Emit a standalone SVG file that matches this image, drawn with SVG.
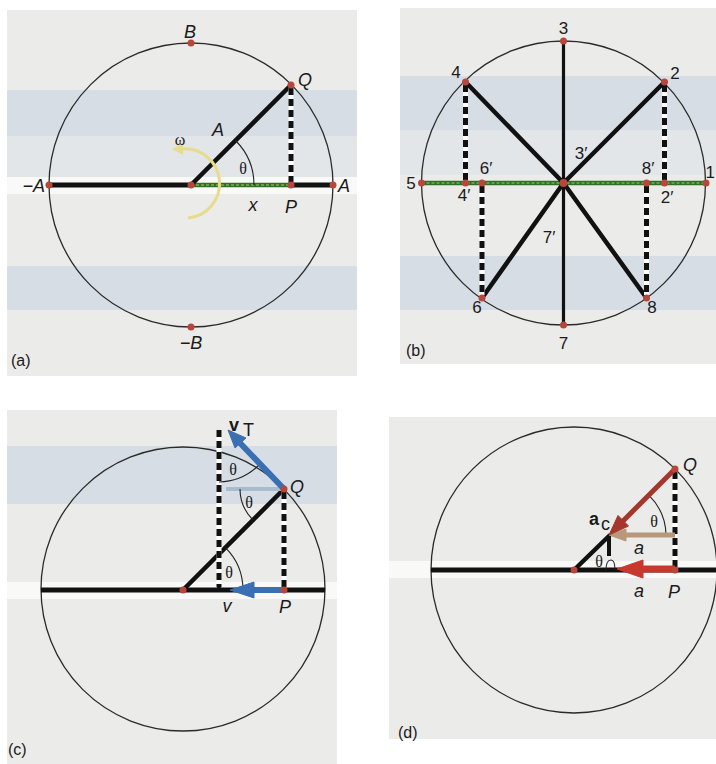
<svg xmlns="http://www.w3.org/2000/svg" width="716" height="764" viewBox="0 0 716 764">
<defs>
<style>
.bg{fill:#ebebe9}
.band{fill:#d6dde4}
.band2{fill:#e3e6e9}
.wband{fill:#f9f9f8}
.circ{fill:none;stroke:#2a2a2a;stroke-width:1.3}
.bar{stroke:#111;stroke-width:5;stroke-linecap:butt;fill:none}
.rod{stroke:#111;stroke-width:4.5;stroke-linecap:round;fill:none}
.dw{stroke:#fff;stroke-width:5;fill:none}
.dk{stroke:#111;stroke-width:5;stroke-dasharray:7 4;fill:none}
.gr{stroke:#2f6f2a;stroke-width:4.5;fill:none}
.gr2{stroke:#7fb04a;stroke-width:1.5;stroke-dasharray:3 2;fill:none}
.dot{fill:#b8463c}
.arc{fill:none;stroke:#222;stroke-width:1.1}
.t{font-family:"Liberation Sans",Arial,sans-serif;font-size:18px;fill:#1a1a1a}
.i{font-style:italic}
.n{font-family:"Liberation Sans",Arial,sans-serif;font-size:17px;fill:#1a1a1a}
.th{font-family:"Liberation Serif","Times New Roman",serif;font-size:16px;fill:#1a1a1a}
.lab{font-family:"Liberation Sans",Arial,sans-serif;font-size:16px;fill:#1a1a1a}
.blue{fill:#3b6fb3;stroke:#3b6fb3}
.red{fill:#a5362b;stroke:#a5362b}
.red2{fill:#c8382d;stroke:#c8382d}
.tan{fill:#b8987a;stroke:#b8987a}
</style>
</defs>
<rect width="716" height="764" fill="#ffffff"/>

<!-- Panel (a) -->
<g id="panel-a">
<rect class="bg" x="7" y="10" width="350" height="366"/>
<rect class="band" x="7" y="90" width="350" height="46"/>
<rect class="band2" x="7" y="136" width="350" height="42"/>
<rect class="wband" x="7" y="177" width="350" height="17"/>
<rect class="band" x="7" y="266" width="350" height="44"/>
<circle class="circ" cx="191" cy="185" r="142"/>
</g>
<g id="connectors-a">
<line class="bar" x1="49" y1="185" x2="191" y2="185"/>
<line class="bar" x1="291" y1="185" x2="333" y2="185"/>
<line class="gr" x1="191" y1="185" x2="291" y2="185"/>
<line class="gr2" x1="191" y1="185" x2="291" y2="185"/>
<line class="rod" x1="191" y1="185" x2="291" y2="85"/>
<line class="dw" x1="291" y1="88" x2="291" y2="183"/>
<line class="dk" x1="291" y1="88" x2="291" y2="183"/>
<path class="arc" d="M254,185 A63,63 0 0 0 235.5,140.5"/>
<path d="M188,218 A34,34 0 0 0 182,149" fill="none" stroke="#e6dc8c" stroke-width="3"/>
<polygon points="172,149 183,143 183,155" fill="#e6dc8c"/>
</g>
<g id="nodes-a">
<circle class="dot" cx="191" cy="43" r="3.5"/>
<circle class="dot" cx="191" cy="327" r="3.5"/>
<circle class="dot" cx="49" cy="185" r="3.5"/>
<circle class="dot" cx="333" cy="185" r="3.5"/>
<circle class="dot" cx="191" cy="185" r="3.5"/>
<circle class="dot" cx="291" cy="185" r="3.5"/>
<circle class="dot" cx="291" cy="85" r="3.5"/>
<text class="t i" x="190" y="38" text-anchor="middle">B</text>
<text class="t i" x="305" y="86" text-anchor="middle">Q</text>
<text class="t i" x="218" y="136" text-anchor="middle">A</text>
<text class="th" x="180" y="145" text-anchor="middle">ω</text>
<text class="th" x="243" y="174" text-anchor="middle">θ</text>
<text class="t i" x="45" y="192" text-anchor="end">−A</text>
<text class="t i" x="338" y="192">A</text>
<text class="t i" x="253" y="211" text-anchor="middle">x</text>
<text class="t i" x="291" y="213" text-anchor="middle">P</text>
<text class="t i" x="191" y="349" text-anchor="middle">−B</text>
<text class="lab" x="11" y="366">(a)</text>
</g>

<!-- Panel (b) -->
<g id="panel-b">
<rect class="bg" x="400" y="8" width="316" height="356"/>
<rect class="band" x="400" y="76" width="316" height="54"/>
<rect class="band2" x="400" y="130" width="316" height="45"/>
<rect class="band" x="400" y="256" width="316" height="54"/>
<circle class="circ" cx="563.5" cy="183" r="142"/>
</g>
<g id="connectors-b">
<line x1="563.5" y1="41" x2="563.5" y2="325" stroke="#111" stroke-width="3.2"/>
<line class="gr" x1="421.5" y1="183" x2="706" y2="183"/>
<line class="gr2" x1="421.5" y1="183" x2="706" y2="183"/>
<line class="rod" x1="563.5" y1="183" x2="465.5" y2="82"/>
<line class="rod" x1="563.5" y1="183" x2="664.5" y2="82"/>
<line class="rod" x1="563.5" y1="183" x2="482" y2="298"/>
<line class="rod" x1="563.5" y1="183" x2="646.5" y2="298"/>
<line class="dw" x1="465.5" y1="85" x2="465.5" y2="181"/>
<line class="dk" x1="465.5" y1="85" x2="465.5" y2="181"/>
<line class="dw" x1="664.5" y1="85" x2="664.5" y2="181"/>
<line class="dk" x1="664.5" y1="85" x2="664.5" y2="181"/>
<line class="dw" x1="482" y1="186" x2="482" y2="295"/>
<line class="dk" x1="482" y1="186" x2="482" y2="295"/>
<line class="dw" x1="646.5" y1="186" x2="646.5" y2="295"/>
<line class="dk" x1="646.5" y1="186" x2="646.5" y2="295"/>
</g>
<g id="nodes-b">
<circle class="dot" cx="563.5" cy="41" r="3.5"/>
<circle class="dot" cx="563.5" cy="325" r="3.5"/>
<circle class="dot" cx="465.5" cy="82" r="3.5"/>
<circle class="dot" cx="664.5" cy="82" r="3.5"/>
<circle class="dot" cx="482" cy="298" r="3.5"/>
<circle class="dot" cx="646.5" cy="298" r="3.5"/>
<circle class="dot" cx="421.5" cy="183" r="3.5"/>
<circle class="dot" cx="465.5" cy="183" r="3.5"/>
<circle class="dot" cx="482" cy="183" r="3.5"/>
<circle class="dot" cx="563.5" cy="183" r="4"/>
<circle class="dot" cx="646.5" cy="183" r="3.5"/>
<circle class="dot" cx="664.5" cy="183" r="3.5"/>
<circle class="dot" cx="706" cy="183" r="3.5"/>
<text class="n" x="563.5" y="34" text-anchor="middle">3</text>
<text class="n" x="456" y="78" text-anchor="middle">4</text>
<text class="n" x="675" y="79" text-anchor="middle">2</text>
<text class="n" x="581" y="159" text-anchor="middle">3′</text>
<text class="n" x="411" y="189" text-anchor="middle">5</text>
<text class="n" x="486" y="174" text-anchor="middle">6′</text>
<text class="n" x="464" y="201" text-anchor="middle">4′</text>
<text class="n" x="648" y="174" text-anchor="middle">8′</text>
<text class="n" x="667" y="203" text-anchor="middle">2′</text>
<text class="n" x="549" y="243" text-anchor="middle">7′</text>
<text class="n" x="477" y="313" text-anchor="middle">6</text>
<text class="n" x="652" y="313" text-anchor="middle">8</text>
<text class="n" x="563.5" y="349" text-anchor="middle">7</text>
<text class="n" x="715" y="178" font-size="12" text-anchor="end">1</text>
<text class="lab" x="406" y="356">(b)</text>
</g>

<!-- Panel (c) -->
<g id="panel-c">
<rect class="bg" x="7" y="410" width="330" height="354"/>
<rect class="band" x="7" y="446" width="330" height="58"/>
<rect class="wband" x="7" y="582" width="330" height="17"/>
<circle class="circ" cx="183" cy="589" r="142"/>
</g>
<g id="connectors-c">
<line class="bar" x1="41" y1="590" x2="325" y2="590"/>
<line class="rod" x1="183" y1="590" x2="284" y2="489"/>
<line class="dw" x1="219" y1="430" x2="219" y2="587"/>
<line class="dk" x1="219" y1="430" x2="219" y2="587"/>
<line class="dw" x1="284" y1="492" x2="284" y2="587"/>
<line class="dk" x1="284" y1="492" x2="284" y2="587"/>
<line x1="226" y1="489" x2="282" y2="489" stroke="#a9bccf" stroke-width="4"/>
<path class="arc" d="M219,482 A58,58 0 0 0 259,465"/>
<path class="arc" d="M240,489 A44,44 0 0 0 253,520"/>
<path class="arc" d="M243,590 A60,60 0 0 0 225.4,547.6"/>
<line class="blue" x1="284" y1="489" x2="240" y2="443" stroke-width="6"/>
<polygon class="blue" points="228,430 246,438 235,448" stroke-width="1"/>
<line class="blue" x1="284" y1="590" x2="252" y2="590" stroke-width="6"/>
<polygon class="blue" points="230,590 254,582 254,598" stroke-width="1"/>
</g>
<g id="nodes-c">
<circle class="dot" cx="183" cy="590" r="3.5"/>
<circle class="dot" cx="284" cy="489" r="3.5"/>
<circle class="dot" cx="284" cy="590" r="3.5"/>
<circle cx="219" cy="588" r="2" fill="#111"/>
<text class="t" x="229" y="431" font-weight="bold">v</text>
<text class="t" x="243" y="436" font-size="11">T</text>
<text class="th" x="233" y="475" text-anchor="middle">θ</text>
<text class="th" x="249" y="508" text-anchor="middle">θ</text>
<text class="th" x="229" y="578" text-anchor="middle">θ</text>
<text class="t i" x="297" y="493" text-anchor="middle">Q</text>
<text class="t i" x="227" y="612" text-anchor="middle">v</text>
<text class="t i" x="285" y="613" text-anchor="middle">P</text>
<text class="lab" x="8" y="755">(c)</text>
</g>

<!-- Panel (d) -->
<g id="panel-d">
<rect class="bg" x="389" y="417" width="327" height="322"/>
<rect class="wband" x="389" y="561" width="327" height="17"/>
<circle class="circ" cx="574" cy="570" r="143"/>
</g>
<g id="connectors-d">
<line class="bar" x1="431" y1="570" x2="716" y2="570"/>
<line class="rod" x1="574" y1="570" x2="609" y2="536"/>
<line x1="609" y1="535" x2="609" y2="556" stroke="#111" stroke-width="4"/>
<path class="arc" d="M606,570 Q606,560 611,560 Q615,560 615,570"/>
<line class="dw" x1="675" y1="472" x2="675" y2="567"/>
<line class="dk" x1="675" y1="472" x2="675" y2="567"/>
<path class="arc" d="M666,535 A57,57 0 0 0 649.3,495.7"/>
<line class="tan" x1="675" y1="535" x2="624" y2="535" stroke-width="5"/>
<polygon class="tan" points="609,535 626,529 626,541" stroke-width="1"/>
<line class="red" x1="675" y1="469" x2="622" y2="522" stroke-width="5"/>
<polygon class="red" points="609,535 628.5,526 618,515.5" stroke-width="1"/>
<line class="red2" x1="675" y1="569" x2="640" y2="569" stroke-width="7"/>
<polygon class="red2" points="617,569 643,560 643,578" stroke-width="1"/>
</g>
<g id="nodes-d">
<circle class="dot" cx="574" cy="570" r="3.5"/>
<circle class="dot" cx="675" cy="469" r="3.5"/>
<circle class="dot" cx="675" cy="570" r="3.5"/>
<text class="t i" x="690" y="471" text-anchor="middle">Q</text>
<text class="t" x="589" y="525" font-weight="bold">a</text>
<text class="t" x="601" y="530" font-size="11">c</text>
<text class="th" x="654" y="527" text-anchor="middle">θ</text>
<text class="th" x="599" y="567" text-anchor="middle">θ</text>
<text class="t i" x="639" y="554" text-anchor="middle">a</text>
<text class="t i" x="639" y="597" text-anchor="middle">a</text>
<text class="t i" x="674" y="598" text-anchor="middle">P</text>
<text class="lab" x="398" y="738">(d)</text>
</g>
</svg>
